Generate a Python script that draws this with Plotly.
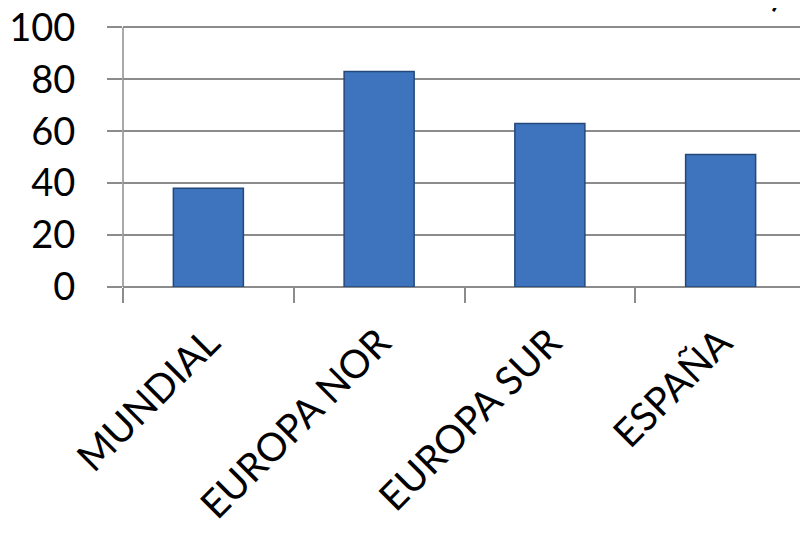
import plotly.graph_objects as go

categories = ["MUNDIAL", "EUROPA NOR", "EUROPA SUR", "ESPAÑA"]
values = [38, 83, 63, 51]
y_ticks = [0, 20, 40, 60, 80, 100]

FONT = "Lato, Calibri, Carlito, sans-serif"
GRID = "#8c8c8c"

fig = go.Figure()
fig.add_trace(go.Bar(
    x=categories, y=values,
    marker=dict(color="#3d74bd", line=dict(color="#24487a", width=1.5)),
    width=0.41,
    hoverinfo="skip",
))

fig.update_layout(
    width=808, height=534,
    margin=dict(l=115, r=10, t=9, b=255),
    paper_bgcolor="white", plot_bgcolor="white",
    showlegend=False,
    font=dict(family=FONT, color="black", size=34),
)
fig.update_xaxes(
    type="category",
    automargin=False,
    tickangle=-45,
    ticks="outside", ticklen=15, tickcolor=GRID, tickwidth=1.5,
    tickson="boundaries",
    showline=False, showgrid=False,
    tickfont=dict(family=FONT, size=39, color="black"),
    ticklabelstandoff=24,
)
fig.update_yaxes(
    automargin=False,
    range=[0, 104], tickvals=y_ticks,
    ticks="outside", ticklen=15, tickcolor=GRID, tickwidth=1.5,
    showline=False,
    showgrid=True, gridcolor=GRID, gridwidth=1.5,
    zeroline=True, zerolinecolor=GRID, zerolinewidth=1.5,
    tickfont=dict(family=FONT, size=38, color="black"),
    ticklabelstandoff=24,
    ticklabeloverflow="allow",
)
# vertical axis line running from the lowest to the highest tick
fig.add_shape(
    type="line", xref="paper", yref="y",
    x0=0, x1=0, y0=y_ticks[0], y1=y_ticks[-1],
    line=dict(color=GRID, width=1.5), layer="above",
)
fig.add_annotation(
    text=")", xref="paper", yref="paper", x=0.957, y=1.0,
    xanchor="center", yanchor="bottom", showarrow=False,
    font=dict(family=FONT, size=40, color="black"),
)
fig.write_html("out.html")
